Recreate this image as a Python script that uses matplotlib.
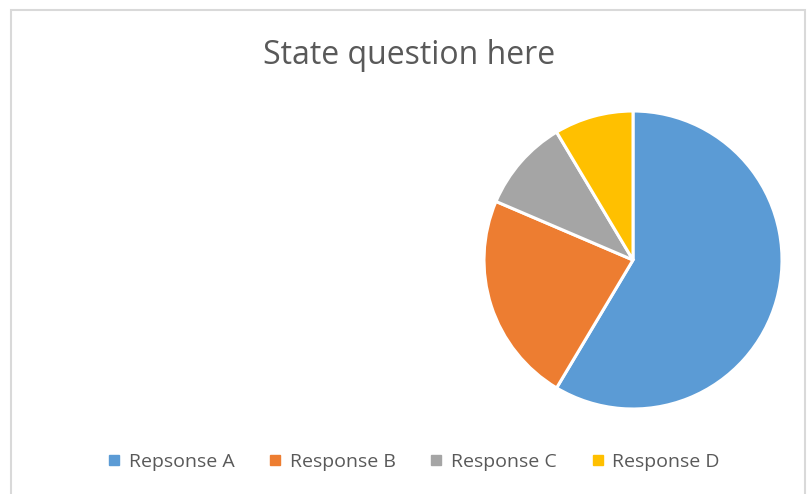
import matplotlib
matplotlib.use("Agg")
import matplotlib.pyplot as plt
from matplotlib.patches import Rectangle
from matplotlib.lines import Line2D

labels = ["Repsonse A", "Response B", "Response C", "Response D"]
values = [8.2, 3.2, 1.4, 1.2]
colors = ["#5B9BD5", "#ED7D31", "#A5A5A5", "#FFC000"]
title = "State question here"

W, H = 807, 494
fig = plt.figure(figsize=(W / 100, H / 100), dpi=100)
plt.rcParams['font.family'] = ['Open Sans', 'DejaVu Sans']

# border
fig.patches.append(Rectangle((10.5 / W, -0.05), (805 - 10.5) / W, 1 - 9.5 / H + 0.05,
                             transform=fig.transFigure, fill=False,
                             edgecolor="#D9D9D9", linewidth=1.5))

cx, cy, r = 633, 260, 149
box = 152
ax = fig.add_axes([(cx - box) / W, 1 - (cy + box) / H, 2 * box / W, 2 * box / H])
ax.pie(values, colors=colors, startangle=90, counterclock=False, radius=r / box,
       wedgeprops=dict(edgecolor="white", linewidth=2.2))
ax.set_xlim(-1, 1)
ax.set_ylim(-1, 1)
ax.set_aspect("auto")
ax.axis("off")

fig.text(409 / W, 1 - 56 / H, title, ha="center", va="center", fontsize=23, color="#595959")

handles = [Line2D([], [], marker="s", linestyle="none", markersize=7,
                  markerfacecolor=c, markeredgecolor=c) for c in colors]
fig.legend(handles, labels, loc="center", bbox_to_anchor=(412 / W, 1 - 462 / H), ncol=4,
           frameon=False, fontsize=14, labelcolor="#595959", handletextpad=0.25,
           columnspacing=1.6, handlelength=1.0)

fig.savefig("out.png", dpi=100)
